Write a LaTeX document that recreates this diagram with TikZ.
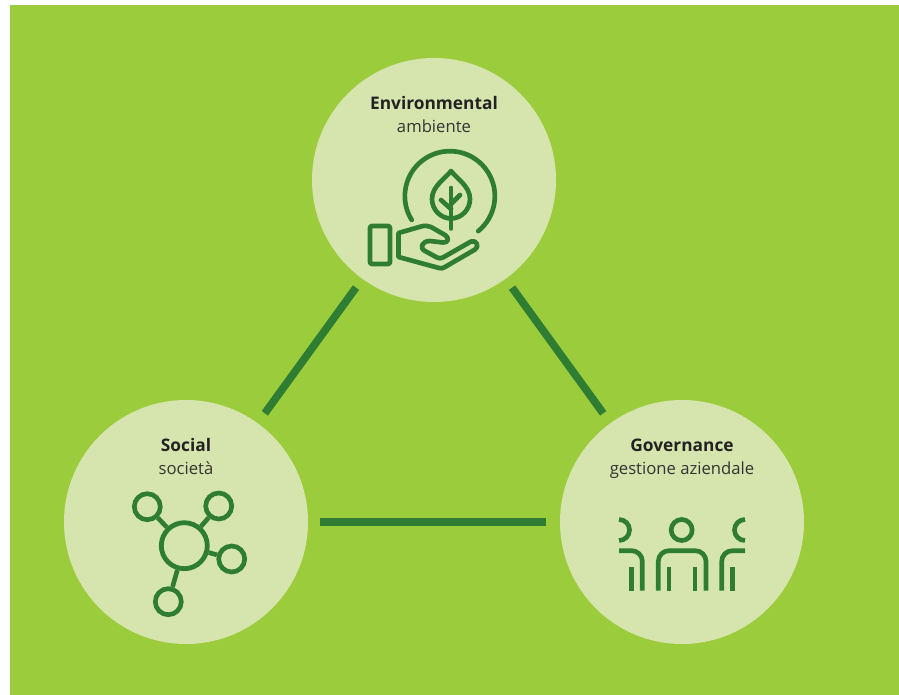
\documentclass[tikz,border=0pt]{standalone}
\usepackage{fontspec}
\setmainfont{Open Sans}
\definecolor{bggreen}{HTML}{9BCC3C}
\definecolor{pale}{HTML}{D6E5AE}
\definecolor{dark}{HTML}{2E7D32}
\definecolor{ink}{HTML}{222222}
\definecolor{softink}{HTML}{333333}
\tikzset{
  bigcircle/.style={circle,fill=pale,minimum size=183pt,inner sep=0pt},
  link/.style={draw=dark,line width=5.8pt},
  titletext/.style={text=ink,font=\bfseries\fontsize{13pt}{15pt}\selectfont,inner sep=0pt,anchor=base},
  subtext/.style={text=softink,font=\fontsize{12.5pt}{15pt}\selectfont,inner sep=0pt,anchor=base},
  icon/.style={draw=dark,line width=3.5pt,line join=round},
  hub/.style={circle,draw=dark,line width=3.6pt,inner sep=0pt,minimum size=34.5pt},
  sat/.style={circle,draw=dark,line width=3.5pt,inner sep=0pt,minimum size=19.5pt},
}
\begin{document}
\begin{tikzpicture}[x=0.75pt,y=0.75pt]
\useasboundingbox (0,0) rectangle (899,-695);
\fill[white] (0,0) rectangle (899,-695);
\fill[bggreen] (10,-5) rectangle (899,-695);

\node[bigcircle] (env) at (434,-180) {};
\node[bigcircle] (soc) at (186,-522) {};
\node[bigcircle] (gov) at (682,-522) {};

\draw[link,shorten <=8pt,shorten >=9pt] (env) -- (soc);
\draw[link,shorten <=8pt,shorten >=9pt] (env) -- (gov);
\draw[link,yshift=-0.6pt,shorten <=9pt,shorten >=10pt] (soc) -- (gov);

\node[titletext] (envt) at (434,-110) {Environmental};
\node[subtext] (envs) at (434,-133) {ambiente};
\node[titletext] (soct) at (186,-451) {Social};
\node[subtext] (socs) at (186,-474) {società};
\node[titletext] (govt) at (682,-451) {Governance};
\node[subtext] (govs) at (682,-474) {gestione aziendale};

% environmental icon
\draw[icon,line cap=round] (411.7,-220) arc[start angle=212,end angle=-51,radius=45];
\draw[icon,rounded corners=1.5pt] (370,-226) rectangle (390,-264);
\draw[icon,line cap=round] (451,-171)
  .. controls (446,-178) and (432,-186) .. (432,-199)
  .. controls (432,-210) and (441,-218.5) .. (451,-218.5)
  .. controls (461,-218.5) and (470,-210) .. (470,-199)
  .. controls (470,-186) and (456,-178) .. cycle;
\draw[icon,line cap=round] (451,-188) -- (451,-228.5);
\draw[icon,line cap=round] (441,-200) -- (451,-209);
\draw[icon,line cap=round] (460,-195) -- (451,-204);
\draw[icon] (398.5,-233) -- (421,-226.5)
  .. controls (425,-225.5) and (428,-225.5) .. (431,-227)
  -- (445,-235)
  .. controls (450,-238) and (448,-243) .. (443,-242.5)
  -- (430,-241)
  .. controls (422,-241) and (419,-248) .. (425,-251)
  -- (437,-257.5)
  .. controls (439,-258.5) and (441,-258.5) .. (443,-257.5)
  -- (471,-241.5)
  .. controls (476,-239.5) and (480,-246.5) .. (475,-249.5)
  -- (445,-267)
  .. controls (443,-268.5) and (441,-268.5) .. (439,-268)
  -- (398.5,-257) -- cycle;

% social icon
\node[hub] (h) at (184.3,-545.7) {};
\node[sat] (s1) at (147.3,-506.7) {};
\node[sat] (s2) at (218.7,-506) {};
\node[sat] (s3) at (231.7,-559) {};
\node[sat] (s4) at (168.3,-601.7) {};
\draw[icon] (h) -- (s1);
\draw[icon] (h) -- (s2);
\draw[icon] (h) -- (s3);
\draw[icon] (h) -- (s4);

% governance icon
\draw[icon] (681.7,-530) circle[radius=10.5];
\draw[icon] (619,-519.5) arc[start angle=90,end angle=-90,radius=10.5];
\draw[icon] (745,-519.5) arc[start angle=90,end angle=270,radius=10.5];
\draw[icon,rounded corners=8pt] (658.3,-590.7) -- (658.3,-550.7) -- (706,-550.7) -- (706,-590.7);
\draw[icon,rounded corners=8pt] (619,-550.7) -- (642.3,-550.7) -- (642.3,-590.7);
\draw[icon,rounded corners=8pt] (745,-550.7) -- (721.7,-550.7) -- (721.7,-590.7);
\draw[icon] (631.7,-566.7) -- (631.7,-590.7);
\draw[icon] (669,-566.7) -- (669,-590.7);
\draw[icon] (695,-566.7) -- (695,-590.7);
\draw[icon] (732.3,-566.7) -- (732.3,-590.7);
\end{tikzpicture}
\end{document}
